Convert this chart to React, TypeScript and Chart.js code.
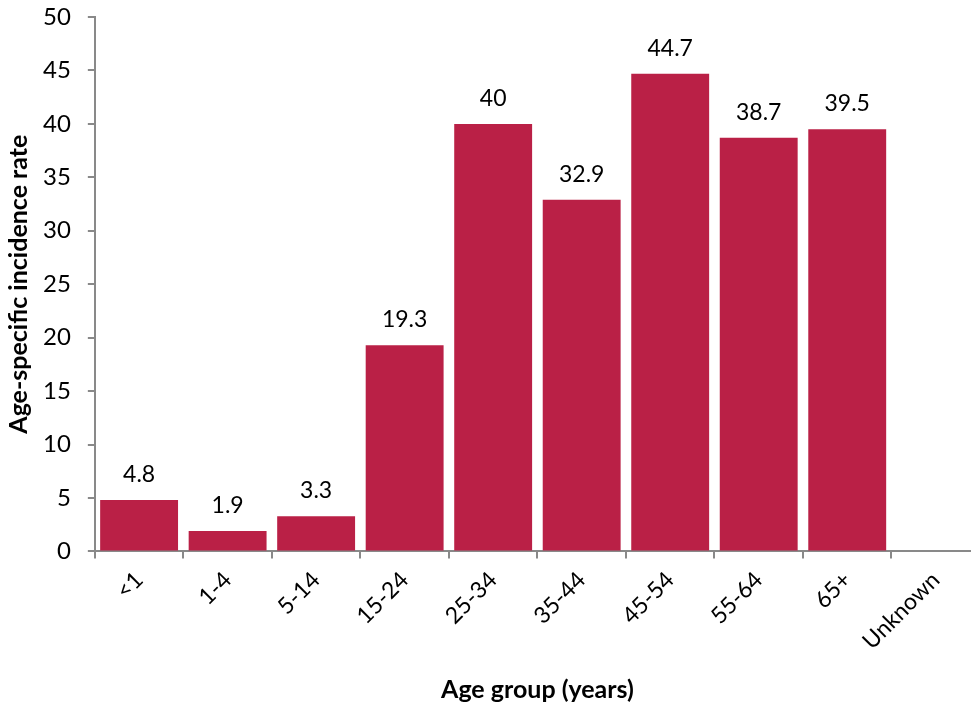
import React, { useEffect, useRef } from "react";
import { Chart, registerables } from "chart.js";

Chart.register(...registerables);

const categories = ["<1", "1-4", "5-14", "15-24", "25-34", "35-44", "45-54", "55-64", "65+", "Unknown"];
const rates: (number | null)[] = [4.8, 1.9, 3.3, 19.3, 40, 32.9, 44.7, 38.7, 39.5, null];
const yTitle = "Age-specific incidence rate";
const xTitle = "Age group (years)";

const FONT = "Lato, 'Open Sans', sans-serif";
const AXIS = "#898989";

const labelPlugin = {
  id: "barLabels",
  afterDatasetsDraw(chart: any) {
    const ctx = chart.ctx;
    const meta = chart.getDatasetMeta(0);
    ctx.save();
    ctx.font = `23px ${FONT}`;
    ctx.fillStyle = "#000";
    ctx.textAlign = "center";
    ctx.textBaseline = "alphabetic";
    meta.data.forEach((el: any, i: number) => {
      const v = rates[i];
      if (v === null || v === undefined) return;
      ctx.fillText(String(v), el.x, el.y - 18);
    });
    ctx.restore();
  },
};

export default function App() {
  const ref = useRef<HTMLCanvasElement | null>(null);
  useEffect(() => {
    if (!ref.current) return;
    const chart = new Chart(ref.current, {
      type: "bar",
      data: {
        labels: categories,
        datasets: [
          {
            data: rates,
            backgroundColor: "#BA2046",
            categoryPercentage: 1,
            barPercentage: 0.88,
          },
        ],
      },
      options: {
        animation: false,
        responsive: true,
        maintainAspectRatio: false,
        layout: { padding: { top: 0, right: 0, bottom: 4, left: 4 } },
        plugins: { legend: { display: false }, tooltip: { enabled: false } },
        scales: {
          x: {
            grid: { drawOnChartArea: false, drawTicks: true, tickLength: 7, color: AXIS, lineWidth: 2 },
            border: { color: AXIS, width: 2 },
            ticks: {
              color: "#000",
              font: { family: FONT, size: 23 },
              maxRotation: 45,
              minRotation: 45,
              padding: 8,
            },
            title: {
              display: true,
              text: xTitle,
              color: "#000",
              font: { family: FONT, size: 25, weight: "bold" },
              padding: { top: 12, bottom: 0 },
            },
          },
          y: {
            min: 0,
            max: 50,
            afterFit: (s: any) => {
              s.paddingTop = 17;
              s.paddingBottom = 14;
            },
            grid: { drawOnChartArea: false, drawTicks: true, tickLength: 7, color: AXIS, lineWidth: 2 },
            border: { color: AXIS, width: 2 },
            ticks: {
              stepSize: 5,
              color: "#000",
              font: { family: FONT, size: 24 },
              padding: 17,
            },
            title: {
              display: true,
              text: yTitle,
              color: "#000",
              font: { family: FONT, size: 25, weight: "bold" },
              padding: { top: 0, bottom: -8 },
            },
          },
        },
      },
      plugins: [labelPlugin],
    });
    return () => chart.destroy();
  }, []);

  return (
    <div style={{ position: "fixed", left: 0, top: 0, width: 971, height: 709, overflow: "hidden", background: "#fff" }}>
      <div style={{ position: "relative", width: 980, height: 709 }}>
        <canvas ref={ref} />
      </div>
    </div>
  );
}
